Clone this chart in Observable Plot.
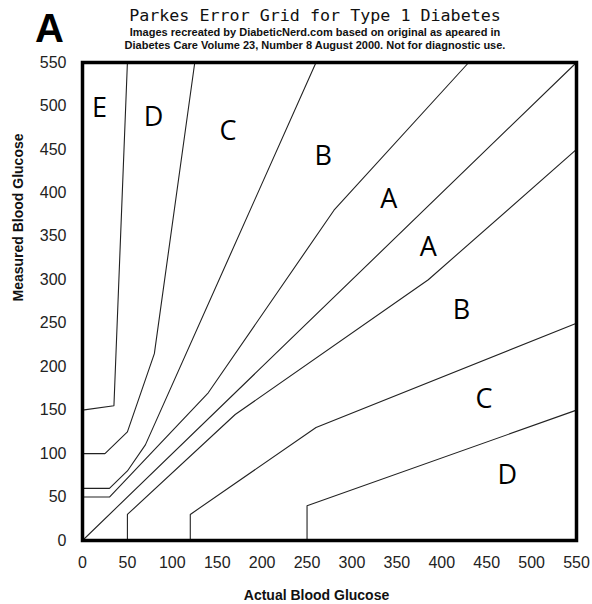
<!DOCTYPE html>
<html>
<head>
<meta charset="utf-8">
<script src="https://cdn.jsdelivr.net/npm/d3@7"></script>
<script src="https://cdn.jsdelivr.net/npm/@observablehq/plot@0.6"></script>
<style>
  html, body { margin: 0; padding: 0; background: #fff; }
  #wrap { position: relative; width: 592px; height: 604px; }
  .abs { position: absolute; white-space: nowrap; }
  #bigA { left: 35px; top: 8px; font: bold 40px "Liberation Sans", Arial, sans-serif; line-height: 1; color: #000; }
  .ctr { left: 0; width: 630px; text-align: center; }
  #title { top: 5px; font: 16.7px "DejaVu Sans Mono", monospace; color: #111; }
  .sub { font: bold 11px "Liberation Sans", Arial, sans-serif; color: #111; }
  #sub1 { top: 26px; }
  #sub2 { top: 39px; }
</style>
</head>
<body>
<div id="wrap">
  <div id="chart"></div>
  <div class="abs" id="bigA">A</div>
  <div class="abs ctr" id="title">Parkes Error Grid for Type 1 Diabetes</div>
  <div class="abs ctr sub" id="sub1">Images recreated by DiabeticNerd.com based on original as apeared in</div>
  <div class="abs ctr sub" id="sub2">Diabetes Care Volume 23, Number 8 August 2000. Not for diagnostic use.</div>
</div>
<script>
// Zone boundary lines (actual, measured)
const lineNames = ["Diagonal","A upper","A lower","B upper","B lower","C upper","C lower","D upper"];
const diagonal = [[0,0],[550,550]];
const aUpper = [[0,50],[30,50],[140,170],[280,380],[430,550]];
const aLower = [[50,0],[50,30],[170,145],[385,300],[550,450]];
const bUpper = [[0,60],[30,60],[50,80],[70,110],[260,550]];
const bLower = [[120,0],[120,30],[260,130],[550,250]];
const cUpper = [[0,100],[25,100],[50,125],[80,215],[125,550]];
const cLower = [[250,0],[250,40],[550,150]];
const dUpper = [[0,150],[35,155],[50,550]];

// Zone labels
const zoneLetters = ["E","D","C","B","A","A","B","C","D"];
const zoneX = [19, 79, 162, 268, 341, 385, 422, 447, 473];
const zoneY = [497, 487, 471, 442, 392, 337, 265, 162, 75];

const ticks = [0,50,100,150,200,250,300,350,400,450,500,550];

const lineSets = [diagonal, aUpper, aLower, bUpper, bLower, cUpper, cLower, dUpper];
const segData = lineSets.flatMap((pts, i) => pts.map(([x, y]) => ({x, y, name: lineNames[i]})));
const labels = zoneLetters.map((t, i) => ({t, x: zoneX[i], y: zoneY[i]}));

const font = '"Liberation Sans", Arial, sans-serif';

const plot = Plot.plot({
  width: 592,
  height: 604,
  marginLeft: 82,
  marginRight: 16,
  marginTop: 62,
  marginBottom: 64,
  style: {fontFamily: font, background: "#fff"},
  x: {domain: [0, 550]},
  y: {domain: [0, 550]},
  marks: [
    Plot.line(segData, {x: "x", y: "y", z: "name", stroke: "#222", strokeWidth: 1.1}),
    Plot.text(labels, {x: "x", y: "y", text: "t", fontSize: 27, fill: "#000", fontFamily: '"Open Sans", sans-serif'}),
    Plot.frame({stroke: "#000", strokeWidth: 3.5}),
    Plot.axisX({ticks, tickSize: 0, tickPadding: 16, fontSize: 16, fill: "#222", label: null}),
    Plot.axisY({ticks, tickSize: 0, tickPadding: 16, fontSize: 16, fill: "#222", label: null}),
    Plot.text(["Actual Blood Glucose"], {frameAnchor: "bottom", dy: 59, dx: -13, fontSize: 14, fontWeight: "bold", fill: "#111"}),
    Plot.text(["Measured Blood Glucose"], {frameAnchor: "left", dx: -64, rotate: -90, fontSize: 14, fontWeight: "bold", fill: "#111"})
  ]
});
document.getElementById("chart").appendChild(plot);
</script>
</body>
</html>
